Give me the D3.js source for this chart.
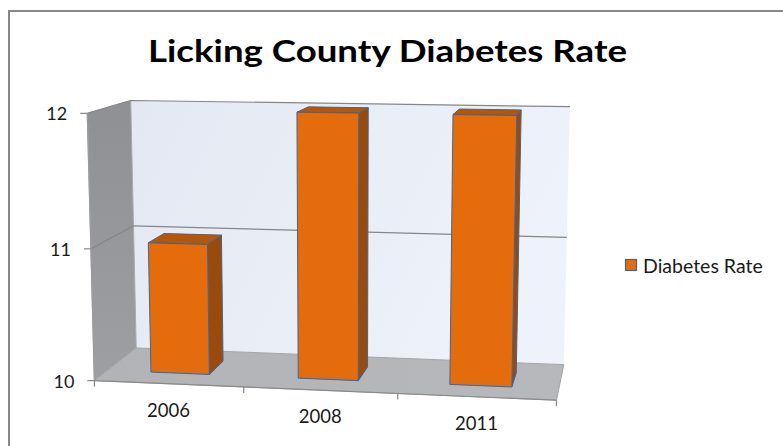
<!DOCTYPE html>
<html>
<head>
<meta charset="utf-8">
<script src="https://cdn.jsdelivr.net/npm/d3@7"></script>
<style>
  body { margin: 0; background: #fff; }
  svg { display: block; }
  text { font-family: Lato, "Open Sans", "Liberation Sans", sans-serif; fill: #1a1a1a; }
</style>
</head>
<body>
<svg id="chart" width="783" height="446"></svg>
<script>
// ---- data ----
const years = ["2006", "2008", "2011"];
const diabetesRate = [11, 12, 12];
const valueTicks = [10, 11, 12];
const seriesName = "Diabetes Rate";
const chartTitle = "Licking County Diabetes Rate";

// ---- 3D frame ----
// The plot cube uses normalised coordinates: u = category axis (0..1),
// v = value axis (0..1), w = depth (0 = front, 1 = back). These anchors say
// where cube corners land on screen; a perspective camera matrix is fitted to them.
const frameAnchors = [
  [[0, 0, 0], [95, 381]],
  [[1, 0, 0], [556, 401]],
  [[0, 0, 1], [136, 348]],
  [[1, 0, 1], [564, 364]],
  [[0, 1, 1], [131, 101]],
  [[1, 1, 1], [570, 107]],
  [[0, 1, 0], [87, 113]],
  [[0, 0.5, 1], [133, 226]],
  [[1, 0.5, 1], [567, 237]],
  [[0, 0.5, 0], [91, 248]]
];

function fitCamera(pts) {
  const rows = [], rhs = [];
  pts.forEach(([[X, Y, Z], [x, y]]) => {
    rows.push([X, Y, Z, 1, 0, 0, 0, 0, -x * X, -x * Y, -x * Z]); rhs.push(x);
    rows.push([0, 0, 0, 0, X, Y, Z, 1, -y * X, -y * Y, -y * Z]); rhs.push(y);
  });
  const n = 11;
  const M = Array.from({ length: n }, () => new Array(n + 1).fill(0));
  rows.forEach((r, k) => {
    for (let i = 0; i < n; i++) {
      for (let j = 0; j < n; j++) M[i][j] += r[i] * r[j];
      M[i][n] += r[i] * rhs[k];
    }
  });
  for (let c = 0; c < n; c++) {
    let p = c;
    for (let r = c + 1; r < n; r++) if (Math.abs(M[r][c]) > Math.abs(M[p][c])) p = r;
    [M[c], M[p]] = [M[p], M[c]];
    for (let r = 0; r < n; r++) {
      if (r === c) continue;
      const f = M[r][c] / M[c][c];
      for (let j = c; j <= n; j++) M[r][j] -= f * M[c][j];
    }
  }
  const p = M.map((row, i) => row[n] / row[i]);
  return (u, v, w) => {
    const d = p[8] * u + p[9] * v + p[10] * w + 1;
    return [(p[0] * u + p[1] * v + p[2] * w + p[3]) / d,
            (p[4] * u + p[5] * v + p[6] * w + p[7]) / d];
  };
}
const project = fitCamera(frameAnchors);

// ---- scales ----
const xBand = d3.scaleBand().domain(years).range([0, 1]).paddingInner(0.6).paddingOuter(0.3);
const yVal = d3.scaleLinear().domain([10, 12]).range([0, 1]);
const barDepth = [0.3, 0.7];

const svg = d3.select("#chart");
const defs = svg.append("defs");
const line = d3.line();
const poly = pts => line(pts.map(q => project(...q))) + "Z";

function grad(id, x2, y2, stops) {
  const g = defs.append("linearGradient").attr("id", id)
    .attr("x1", 0).attr("y1", 0).attr("x2", x2).attr("y2", y2);
  stops.forEach(([o, c]) => g.append("stop").attr("offset", o).attr("stop-color", c));
}
grad("backWall", 1, 0.3, [[0, "#e3e8f2"], [1, "#eef2fa"]]);
grad("sideWall", 0, 1, [[0, "#8e9094"], [1, "#9d9fa3"]]);
grad("floor", 1, 0, [[0, "#b1b3b6"], [1, "#b6b8bb"]]);

// chart area border
svg.append("rect").attr("x", 9).attr("y", 11).attr("width", 820).attr("height", 480)
  .attr("fill", "none").attr("stroke", "#878787").attr("stroke-width", 2);

// title
svg.append("text").attr("x", 387.5).attr("y", 62).attr("text-anchor", "middle")
  .attr("font-size", 31).attr("font-weight", 700)
  .attr("textLength", 479).attr("lengthAdjust", "spacingAndGlyphs")
  .style("fill", "#000").text(chartTitle);

// walls and floor
svg.append("path").attr("d", poly([[0, 0, 1], [1, 0, 1], [1, 1, 1], [0, 1, 1]]))
  .attr("fill", "url(#backWall)");
svg.append("path").attr("d", poly([[0, 0, 0], [0, 0, 1], [0, 1, 1], [0, 1, 0]]))
  .attr("fill", "url(#sideWall)").attr("stroke", "#a9abae").attr("stroke-width", 1);
svg.append("path").attr("d", poly([[0, 0, 0], [1, 0, 0], [1, 0, 1], [0, 0, 1]]))
  .attr("fill", "url(#floor)").attr("stroke", "#a3a5a8").attr("stroke-width", 1);

// gridlines on back and side walls
valueTicks.filter(t => t > 10).forEach(t => {
  const v = yVal(t);
  svg.append("path").attr("d", line([project(0, v, 0), project(0, v, 1), project(1, v, 1)]))
    .attr("fill", "none").attr("stroke", "#868686").attr("stroke-width", 1.2);
});

// value axis line, ticks, labels
svg.append("path").attr("d", line([project(0, 0, 0), project(0, 1, 0)]))
  .attr("stroke", "#9a9a9a").attr("stroke-width", 1.2);
valueTicks.forEach(t => {
  const [x, y] = project(0, yVal(t), 0);
  svg.append("line").attr("x1", x - 7).attr("x2", x).attr("y1", y).attr("y2", y)
    .attr("stroke", "#868686").attr("stroke-width", 1.2);
  svg.append("text").attr("x", x - 20).attr("y", y).attr("text-anchor", "end")
    .attr("dominant-baseline", "central").attr("font-size", 18).text(t);
});

// category axis line, ticks, labels
svg.append("path").attr("d", line([project(0, 0, 0), project(1, 0, 0)]))
  .attr("stroke", "#8a8a8a").attr("stroke-width", 1.2);
d3.range(years.length + 1).forEach(i => {
  const [x, y] = project(i * xBand.step(), 0, 0);
  svg.append("line").attr("x1", x).attr("x2", x).attr("y1", y).attr("y2", y + 6)
    .attr("stroke", "#868686").attr("stroke-width", 1.2);
});
years.forEach(yr => {
  const [x, y] = project(xBand(yr) + xBand.bandwidth() / 2, 0, 0);
  svg.append("text").attr("x", x).attr("y", y + 26).attr("text-anchor", "middle")
    .attr("dominant-baseline", "central").attr("font-size", 18.5).text(yr);
});

// bars
const barStroke = "#3f6597";
years.forEach((yr, i) => {
  const u0 = xBand(yr), u1 = u0 + xBand.bandwidth();
  const v0 = yVal(10), v1 = yVal(diabetesRate[i]);
  const [w0, w1] = barDepth;
  const g = svg.append("g");
  g.append("path").attr("d", poly([[u1, v0, w0], [u1, v0, w1], [u1, v1, w1], [u1, v1, w0]]))
    .attr("fill", "#9a4a0a").attr("stroke", barStroke).attr("stroke-width", 1).attr("stroke-linejoin", "round");
  g.append("path").attr("d", poly([[u0, v1, w0], [u1, v1, w0], [u1, v1, w1], [u0, v1, w1]]))
    .attr("fill", "#b5570a").attr("stroke", barStroke).attr("stroke-width", 1).attr("stroke-linejoin", "round");
  g.append("path").attr("d", poly([[u0, v0, w0], [u1, v0, w0], [u1, v1, w0], [u0, v1, w0]]))
    .attr("fill", "#e46c0c").attr("stroke", barStroke).attr("stroke-width", 1).attr("stroke-linejoin", "round");
});

// legend
svg.append("rect").attr("x", 625.5).attr("y", 259.5).attr("width", 11).attr("height", 11)
  .attr("fill", "#e46c0c").attr("stroke", barStroke).attr("stroke-width", 1.2);
svg.append("text").attr("x", 643).attr("y", 265).attr("dominant-baseline", "central")
  .attr("font-size", 19.5).text(seriesName);
</script>
</body>
</html>
